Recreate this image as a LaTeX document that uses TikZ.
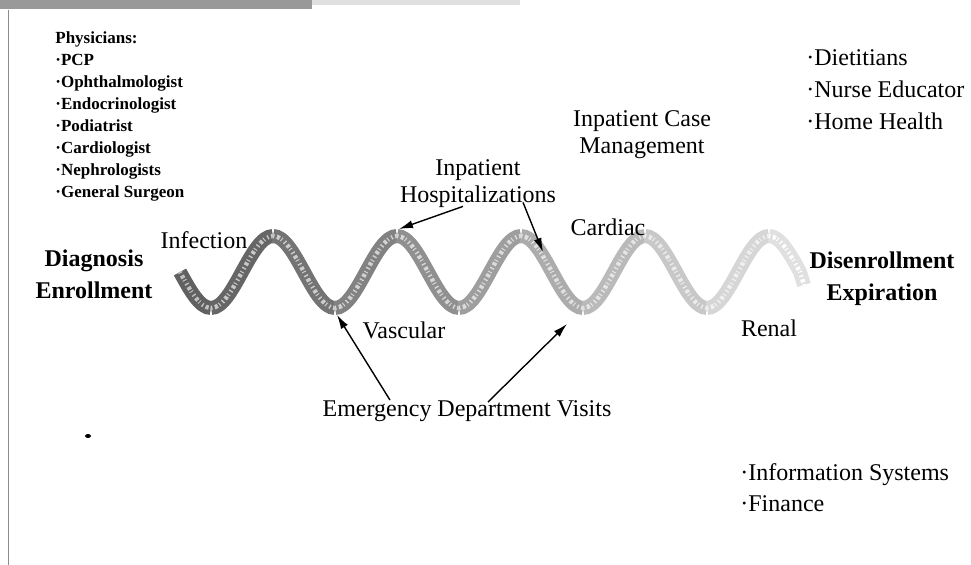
\documentclass[tikz,border=0pt]{standalone}
\usepackage{fontspec}
\setmainfont{Liberation Serif}
\usetikzlibrary{arrows.meta,calc}

\tikzset{
  lbl/.style={font=\fontsize{12}{13.5}\selectfont, inner sep=0pt, align=center},
  endlbl/.style={font=\bfseries\fontsize{12}{16}\selectfont, inner sep=0pt, align=center},
  staff/.style={font=\fontsize{12}{16}\selectfont, inner sep=0pt, align=left, anchor=west},
  band/.style={line width=7pt, line cap=butt},
  grain/.style={line width=2.2pt, dash pattern=on 0.7pt off 1.3pt on 1.6pt off 0.9pt on 0.5pt off 1.6pt, line cap=butt},
  arr/.style={-{Latex[length=7pt,width=4pt]}, line width=0.7pt}
}

\begin{document}
\begin{tikzpicture}[x=0.5pt,y=-0.5pt]
\useasboundingbox (0,0) rectangle (971,565);
% scan edges
\fill[black!40] (0,0) rectangle (312,9);
\fill[black!12] (312,0) rectangle (520,5);
\draw[black!45, line width=0.5pt] (8,10) -- (8,565);
\fill[black] (88,436) ellipse (3 and 2);

% the wave, fading to the right
\draw[band, black!62] (180,272) sin (211,308);
\draw[grain, black!25] (180,272) sin (211,308);
\foreach \i in {0,...,8}{
  \pgfmathsetmacro{\xa}{211+62*\i}
  \pgfmathsetmacro{\xm}{\xa+31}
  \pgfmathsetmacro{\xb}{\xa+62}
  \pgfmathsetmacro{\ya}{isodd(\i) ? 236 : 308}
  \pgfmathsetmacro{\yb}{isodd(\i) ? 308 : 236}
  \pgfmathsetmacro{\tone}{60-5.5*\i}
  \pgfmathsetmacro{\lite}{22-2*\i}
  \draw[band, black!\tone] (\xa,\ya) cos (\xm,272) sin (\xb,\yb);
  \draw[grain, black!\lite] (\xa,\ya) cos (\xm,272) sin (\xb,\yb);
}
\draw[band, black!12] (769,236) cos (800,272) -- (804,285);
\draw[grain, white] (769,236) cos (800,272) -- (804,285);

% labels
\node[font=\bfseries\fontsize{8.5}{11}\selectfont, inner sep=0pt, align=left, anchor=west] (phys) at (55,116)
  {Physicians:\\·PCP\\·Ophthalmologist\\·Endocrinologist\\·Podiatrist\\·Cardiologist\\·Nephrologists\\·General Surgeon};
\node[endlbl] (diag) at (94,274) {Diagnosis\\Enrollment};
\node[endlbl] (disen) at (882,279) {Disenrollment\\Expiration};
\node[lbl] (infect) at (204,240) {Infection};
\node[lbl] (hosp) at (478,184) {Inpatient\\Hospitalizations};
\node[lbl] (casemgmt) at (642,135) {Inpatient Case\\Management};
\node[lbl] (cardiac) at (608,227) {Cardiac};
\node[lbl] (vasc) at (404,330) {Vascular};
\node[lbl] (renal) at (769,328) {Renal};
\node[lbl] (emerg) at (467,411) {Emergency Department Visits};
\node[staff] (team) at (806,90) {·Dietitians\\·Nurse Educator\\·Home Health};
\node[staff, font=\fontsize{12}{15.5}\selectfont] (support) at (740,488) {·Information Systems\\·Finance};

% arrows onto the wave
\coordinate (hx1) at (399,229);
\coordinate (hx2) at (543,252);
\coordinate (ev1) at (337,315);
\coordinate (ev2) at (567,324);
\draw[arr] ($(hosp.south)+(-15,-2)$) -- (hx1);
\draw[arr] ($(hosp.south)+(45,-6)$) -- (hx2);
\draw[arr] ($(emerg.north)+(-77,0)$) -- (ev1);
\draw[arr] ($(emerg.north)+(21,2)$) -- (ev2);
\end{tikzpicture}
\end{document}
